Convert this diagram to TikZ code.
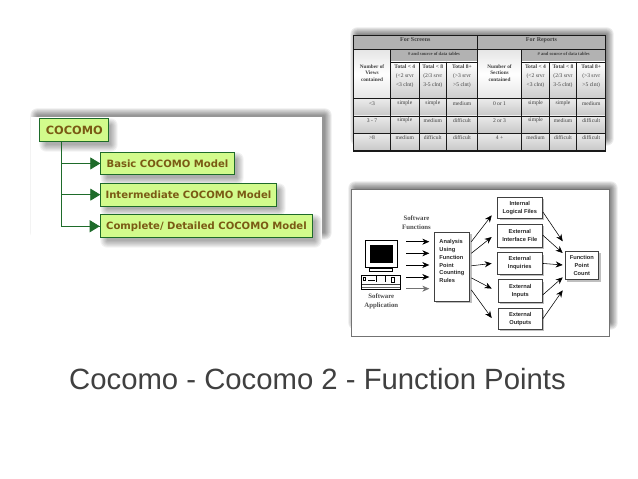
\documentclass[tikz,border=0pt]{standalone}
\usepackage{fontspec}
\setmainfont{Liberation Sans}
\newfontfamily\serifbody{Liberation Serif}
\newfontfamily\wideface{DejaVu Sans}
\usetikzlibrary{calc,arrows.meta,positioning}
\definecolor{nodegreen}{HTML}{D2FB8C}
\definecolor{edgegreen}{HTML}{1E6B2A}
\definecolor{olivetext}{HTML}{7A5A14}
\definecolor{titlegray}{HTML}{404040}
\newcommand{\softshadow}[5]{% x1,y1,x2,y2,strength
  \foreach \g in {1,...,7}{%
    \fill[black,opacity=#5,rounded corners=\g pt]
      ({#1-\g*1.1},{#2-\g*1.1}) rectangle ({#3+\g*1.1},{#4+\g*1.1});}}
\tikzset{
  x=1bp,y=-1bp,
  greenbox/.style={draw=edgegreen,line width=.9bp,fill=nodegreen,inner sep=0pt,
    text=olivetext,font=\wideface\bfseries\fontsize{10.1}{12}\selectfont,anchor=north west},
  greenarrow/.style={draw=edgegreen,line width=.8bp,-{Triangle[length=10bp,width=12bp,fill=edgegreen]}},
  greenline/.style={draw=edgegreen,line width=.8bp},
  fpbox/.style={draw=black!75,line width=.6bp,fill=white,inner sep=0pt,align=center,
    font=\bfseries\fontsize{5.7}{8}\selectfont,text=black!85,anchor=north west},
  fparrow/.style={draw=black,line width=.55bp,-{Stealth[length=7bp,width=6bp]}},
  serifnote/.style={font=\serifbody\bfseries\fontsize{6.8}{8.7}\selectfont,align=center,text=black!70,inner sep=0pt},
  tcell/.style={font=\serifbody\fontsize{5.6}{9}\selectfont,align=center,text=black!75,inner sep=0pt},
  thead/.style={tcell,font=\serifbody\bfseries\fontsize{5.3}{6.7}\selectfont},
  tline/.style={draw=black!90,line width=.9bp},
}
\begin{document}
\begin{tikzpicture}
\useasboundingbox (0,0) rectangle (638,479);
\fill[white] (0,0) rectangle (638,479);

% ---- COCOMO panel
\softshadow{38}{116}{324}{232}{0.07}
\fill[white] (31,117) rectangle (322,247);
\softshadow{47}{126}{110}{144}{0.05}
\softshadow{108}{160}{236}{177}{0.05}
\softshadow{108}{191}{278}{208}{0.05}
\softshadow{108}{222}{314}{240}{0.05}
\node[greenbox,minimum width=69bp,minimum height=22.7bp] (cocomo) at (39.3,118.3)
  {\fontsize{11.4}{13}\selectfont COCOMO};
\node[greenbox,minimum width=133.4bp,minimum height=22.6bp] (basic) at (100.3,151.7) {Basic COCOMO Model};
\node[greenbox,minimum width=175.4bp,minimum height=23bp] (inter) at (100.3,182.7) {Intermediate COCOMO Model};
\node[greenbox,minimum width=212.6bp,minimum height=23bp] (compl) at (99.7,214.3) {Complete/ Detailed COCOMO Model};
\coordinate (trunk) at ($(cocomo.south west)+(22.4,0)$);
\draw[greenline] (trunk) |- (compl.west);
\draw[greenarrow] (trunk |- basic.west) -- (basic.west);
\draw[greenarrow] (trunk |- inter.west) -- (inter.west);
\draw[greenarrow] (trunk |- compl.west) -- (compl.west);

% ---- Table panel
\softshadow{358}{35}{606}{138}{0.08}
\foreach \a/\b/\c/\d in {
  353.3/35.7/477.3/49.3, 477.3/35.7/605.7/49.3,
  390.7/49.3/477.3/62, 521.7/49.3/605.7/62}{
  \fill[black!30] (\a,\b) rectangle (\c,\d);}
\foreach \a/\c in {353.3/390.7,477.3/521.7}{
  \shade[top color=white!90!black,bottom color=black!10,middle color=white] (\a,49.3) rectangle (\c,98.7);}
\foreach \a/\c in {390.7/419,419/446.7,446.7/477.3,521.7/549.3,549.3/576.7,576.7/605.7}{
  \shade[top color=white,bottom color=black!20] (\a,62) rectangle (\c,98.7);}
\foreach \a/\c in {353.3/390.7,390.7/419,419/446.7,446.7/477.3,477.3/521.7,521.7/549.3,549.3/576.7,576.7/605.7}{
  \foreach \b/\d in {98.7/116,116/133.3,133.3/151}{
    \shade[top color=black!8,bottom color=black!22] (\a,\b) rectangle (\c,\d);}}
\draw[tline,line width=1.1bp] (353.3,35.7) rectangle (605.7,151);
\draw[tline] (353.3,49.3) -- (605.7,49.3);
\draw[tline] (390.7,62) -- (477.3,62) (521.7,62) -- (605.7,62);
\foreach \y in {98.7,116,133.3}{\draw[tline] (353.3,\y) -- (605.7,\y);}
\draw[tline] (477.3,35.7) -- (477.3,151);
\foreach \x in {390.7,521.7}{\draw[tline] (\x,49.3) -- (\x,151);}
\foreach \x in {419,446.7,549.3,576.7}{\draw[tline] (\x,62) -- (\x,151);}
\node[thead,font=\serifbody\bfseries\fontsize{6}{7}\selectfont] (hs) at (415.3,39.9) {For Screens};
\node[thead,font=\serifbody\bfseries\fontsize{6}{7}\selectfont] (hr) at (541.5,39.9) {For Reports};
\node[thead,font=\serifbody\bfseries\fontsize{4.6}{7}\selectfont] (ss) at (434,54.3) {\# and source of data tables};
\node[thead,font=\serifbody\bfseries\fontsize{4.6}{7}\selectfont] (sr) at (563.7,54.3) {\# and source of data tables};
\node[thead,align=center] (nv) at (372,73) {Number of\\Views\\contained};
\node[thead,align=center] (nr) at (499.5,73) {Number of\\Sections\\contained};
\node[tcell] (t1) at (404.8,76) {\textbf{Total < 4}\\(<2 srvr\\<3 clnt)};
\node[tcell] (t2) at (432.8,76) {\textbf{Total < 8}\\(2/3 srvr\\3-5 clnt)};
\node[tcell] (t3) at (462,76) {\textbf{Total 8+}\\(>3 srvr\\>5 clnt)};
\node[tcell] (t4) at (535.5,76) {\textbf{Total < 4}\\(<2 srvr\\<3 clnt)};
\node[tcell] (t5) at (563,76) {\textbf{Total < 8}\\(2/3 srvr\\3-5 clnt)};
\node[tcell] (t6) at (591.2,76) {\textbf{Total 8+}\\(>3 srvr\\>5 clnt)};
\foreach \y/\p/\q/\r/\s/\u [count=\i] in {
  103.5/<3/simple/simple/medium/0 or 1,
  120.5/3 - 7/simple/medium/difficult/2 or 3,
  138/>8/medium/difficult/difficult/4 +}{
  \node[tcell] (rowa\i) at (372,\y) {\p};
  \node[tcell] (rowb\i) at (404.8,\y) {\q};
  \node[tcell] (rowc\i) at (432.8,\y) {\r};
  \node[tcell] (rowd\i) at (462,\y) {\s};
  \node[tcell] (rowe\i) at (499.5,\y) {\u};
  \node[tcell] (rowf\i) at (535.5,\y) {\q};
  \node[tcell] (rowg\i) at (563,\y) {\r};
  \node[tcell] (rowh\i) at (591.2,\y) {\s};
}

% ---- Function point panel
\softshadow{356}{189}{610}{322}{0.08}
\draw[fill=white,draw=black!55,line width=.5bp] (351,189.3) rectangle (609.3,336.7);
\foreach \a/\b/\c/\d in {436/234.5/472/303,500/199/544/220.5,500/226.5/544/249,500/254.5/544/276,
  500/281.5/544/304,500/310/544/331,567/253/601/282}{
  \fill[black!25] (\a,\b) rectangle (\c,\d);}
\node[fpbox,minimum width=35.3bp,minimum height=68.4bp,align=left,text width=25bp] (an) at (434,232.3)
  {\fontsize{5.7}{7.9}\selectfont Analysis\\Using\\Function\\Point\\Counting\\Rules\\[1bp]\strut~};
\node[fpbox,minimum width=44.4bp,minimum height=21.6bp] (il) at (497.3,196.7) {Internal\\Logical Files};
\node[fpbox,minimum width=44.4bp,minimum height=22.4bp] (ei) at (497.3,224.3) {External\\Interface File};
\node[fpbox,minimum width=44.4bp,minimum height=21.7bp] (eq) at (497.3,252.3) {External\\Inquiries};
\node[fpbox,minimum width=43.4bp,minimum height=22.4bp] (ep) at (498.3,279.3) {External\\Inputs};
\node[fpbox,minimum width=43.4bp,minimum height=21.3bp] (eo) at (498.3,307.7) {External\\Outputs};
\node[fpbox,minimum width=33.6bp,minimum height=28.6bp] (fc) at (564.7,250.7) {Function\\Point\\Count};
\node[serifnote] (sf) at (416.5,222.7) {Software\\Functions};
\node[serifnote] (sa) at (381.3,301.3) {Software\\Application};
% computer
\coordinate (pc) at (365,240);
\draw[fill=white,draw=black,line width=.6bp] (pc) rectangle ++(32.3,27.3);
\fill[black] ($(pc)+(5,5)$) rectangle ++(22.7,18.3);
\draw[fill=white,draw=black,line width=.5bp] ($(pc)+(4.3,28.3)$) rectangle ++(23.4,3.4);
\draw[fill=white,draw=black,line width=.6bp] ($(pc)+(-3.3,35)$) rectangle ++(38.3,14);
\fill[black!75] ($(pc)+(-3.3,43.6)$) rectangle ++(38.3,1.2);
\fill[black!60] ($(pc)+(-3.3,46.8)$) rectangle ++(38.3,1.2);
\draw[black,line width=.5bp] ($(pc)+(3,39.8)$) -- ++(7,0) ($(pc)+(11,36)$) -- ++(0,6) ($(pc)+(20,36)$) -- ++(0,6) ($(pc)+(26,37.5)$) rectangle ++(3,5) ($(pc)+(-1.5,37.5)$) rectangle ++(2,2.5);
% input arrows
\foreach \y/\n in {241.7/1,253.3/2,265/3,277/4}{
  \coordinate (ins\n) at (406,\y);
  \draw[fparrow] (ins\n) -- ($(an.west |- ins\n)+(-4.7,0)$);
}
\coordinate (ins5) at (406,288.7);
\draw[fparrow,draw=black!55] (ins5) -- ($(an.west |- ins5)+(-4.7,0)$);
% analysis to categories
\draw[fparrow] ($(an.north east)+(1.4,9.4)$) -- ($(il.west)+(-5.6,7.5)$);
\draw[fparrow] ($(an.north east)+(1.4,21)$) -- ($(ei.west)+(-5.6,1.2)$);
\draw[fparrow] ($(an.east)+(1.4,-1)$) -- ($(eq.west)+(-5.6,0)$);
\draw[fparrow] ($(an.south east)+(1.4,-23.4)$) -- ($(ep.west)+(-6.6,-2.2)$);
\draw[fparrow] ($(an.south east)+(1.4,-11.4)$) -- ($(eo.west)+(-6.6,-0.6)$);
% categories to count
\draw[fparrow] ($(il.east)+(.6,4.2)$) -- ($(fc.west)+(-2,-24)$);
\draw[fparrow] ($(ei.east)+(.6,-.5)$) -- ($(fc.west)+(-2,-12.3)$);
\draw[fparrow] ($(eq.east)+(.6,0)$) -- ($(fc.west)+(-2,-.3)$);
\draw[fparrow] ($(ep.east)+(.6,4)$) -- ($(fc.west)+(-2,12)$);
\draw[fparrow] ($(eo.east)+(.6,0)$) -- ($(fc.west)+(-2,25)$);

% ---- Title
\node[anchor=base west,inner sep=0pt,text=titlegray,font=\fontsize{29.4}{34}\selectfont] (title) at (69,389.5)
  {Cocomo - Cocomo 2 - Function Points};
\end{tikzpicture}
\end{document}
